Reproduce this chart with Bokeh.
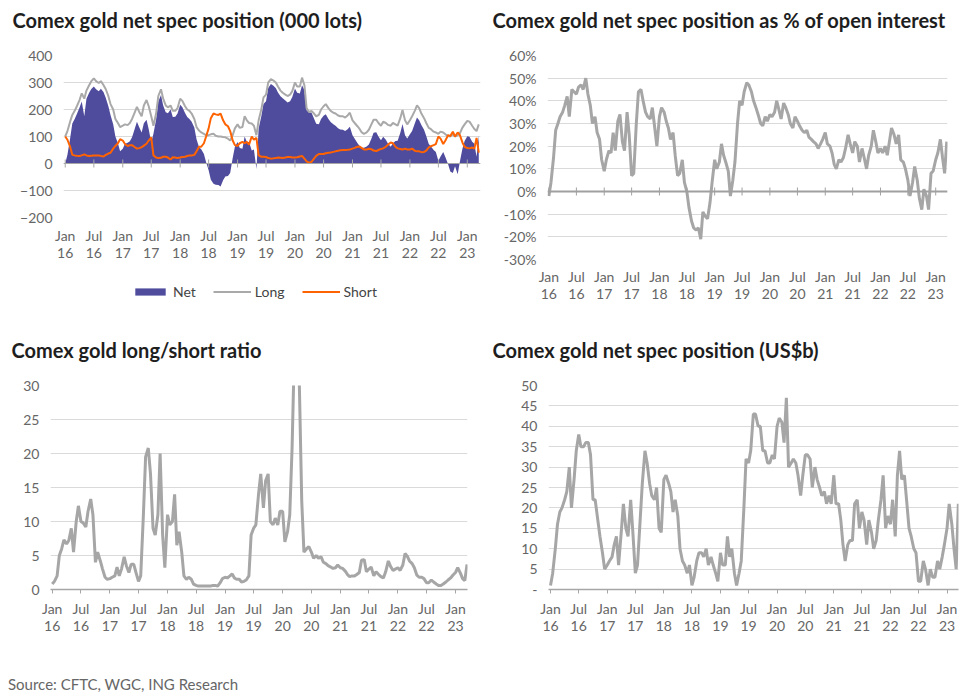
import math
import pandas as pd
from bokeh.plotting import figure
from bokeh.models import Range1d, FixedTicker, Legend, LegendItem, Title, Div, Span
from bokeh.layouts import column, row
from bokeh.embed import file_html
from bokeh.resources import INLINE

# ---------------- data (semi-monthly readings, Jan 2016 - Mar 2023) ----------------
dates = pd.date_range("2016-01-01", periods=174, freq="SMS")

tick_labels = ["Jan\n16", "Jul\n16", "Jan\n17", "Jul\n17", "Jan\n18", "Jul\n18", "Jan\n19", "Jul\n19",
               "Jan\n20", "Jul\n20", "Jan\n21", "Jul\n21", "Jan\n22", "Jul\n22", "Jan\n23"]
tick_dates = pd.date_range("2016-01-01", "2023-01-01", freq="6MS")

# Comex gold net spec position (000 lots)
net_lots = [0, 32, 93, 148, 165, 183, 207, 230, 175, 240, 262, 276, 285, 275, 268, 277, 264, 243, 213, 180, 145, 100, 75, 45,
            55, 73, 77, 82, 97, 123, 155, 135, 115, 149, 162, 127, 78, 110, 163, 230, 254, 215, 190, 186, 200, 172, 173, 185,
            218, 208, 187, 172, 165, 155, 133, 90, 60, 53, 35, 5, -25, -60, -75, -79, -80, -85, -62, -48, -46, -35, 20, 62,
            80, 57, 55, 100, 80, 80, 48, 52, -20, 130, 175, 220, 231, 280, 294, 289, 280, 263, 249, 242, 233, 226, 231, 246,
            278, 262, 259, 290, 272, 197, 188, 189, 167, 147, 145, 165, 177, 182, 165, 154, 145, 140, 131, 126, 125, 120, 127, 136,
            105, 92, 76, 65, 58, 58, 63, 70, 92, 114, 116, 100, 86, 99, 88, 73, 62, 75, 83, 84, 114, 146, 105, 93,
            108, 120, 148, 170, 160, 143, 125, 102, 72, 63, 50, 43, 10, 26, 43, 23, -3, -30, -35, -10, -40, 7, 55, 83,
            101, 99, 81, 73, 25, 105]
long_lots = [100, 120, 155, 180, 195, 212, 235, 260, 240, 270, 290, 305, 315, 305, 298, 305, 290, 275, 250, 220, 200, 165, 150, 135,
             140, 145, 142, 150, 165, 185, 210, 192, 175, 215, 235, 212, 175, 140, 185, 250, 275, 240, 215, 208, 215, 195, 195, 205,
             240, 232, 212, 200, 195, 185, 165, 135, 122, 115, 110, 105, 105, 108, 110, 103, 100, 100, 98, 97, 92, 85, 105, 130,
             145, 132, 135, 175, 160, 150, 148, 140, 105, 160, 200, 245, 255, 300, 312, 308, 300, 285, 270, 262, 255, 250, 255, 268,
             300, 285, 285, 318, 290, 205, 190, 195, 185, 175, 180, 200, 212, 220, 205, 195, 188, 185, 178, 175, 175, 170, 178, 188,
             160, 150, 138, 128, 115, 110, 115, 125, 145, 162, 162, 150, 140, 155, 150, 143, 140, 150, 145, 140, 168, 198, 160, 145,
             160, 175, 195, 215, 205, 185, 168, 150, 132, 127, 118, 115, 110, 118, 115, 108, 102, 100, 108, 100, 105, 112, 133, 145,
             158, 155, 140, 128, 120, 145]
short_lots = [100, 88, 62, 32, 30, 29, 28, 30, 34, 30, 28, 29, 30, 30, 30, 28, 26, 32, 37, 40, 55, 65, 75, 90,
              85, 72, 65, 68, 68, 62, 55, 57, 60, 66, 73, 85, 97, 30, 22, 20, 21, 25, 25, 22, 15, 23, 22, 20,
              22, 24, 25, 28, 30, 30, 32, 45, 62, 62, 75, 100, 130, 168, 185, 182, 180, 185, 160, 145, 138, 120, 85, 68,
              65, 75, 80, 75, 80, 70, 100, 88, 95, 30, 25, 25, 24, 20, 18, 19, 20, 22, 21, 20, 22, 24, 24, 22,
              22, 23, 26, 28, 18, 8, 2, 6, 18, 28, 35, 35, 35, 38, 40, 41, 43, 45, 47, 49, 50, 50, 51, 52,
              55, 58, 62, 63, 57, 52, 52, 55, 53, 48, 46, 50, 54, 56, 62, 70, 78, 75, 62, 56, 54, 52, 55, 52,
              52, 55, 47, 45, 45, 42, 43, 48, 60, 64, 68, 72, 100, 92, 72, 85, 105, 102, 118, 100, 115, 105, 78, 62,
              57, 56, 59, 55, 95, 40]

# Net spec position as % of open interest
pct_oi = [-2, 4, 15, 27, 30, 33, 35, 38, 42, 33, 45, 44, 43, 46, 47, 45, 50, 43, 38, 30, 33, 26, 23, 14,
          9, 14, 18, 17, 26, 18, 31, 34, 22, 18, 35, 25, 7, 8, 30, 44, 45, 40, 35, 33, 32, 37, 28, 20,
          33, 37, 35, 31, 28, 23, 26, 16, 7, 8, 14, 4, 0, -7, -13, -16, -17, -16, -21, -9, -11, -12, -5, 4,
          14, 10, 13, 21, 16, 13, 9, -2, 5, 13, 30, 40, 38, 44, 48, 47, 44, 40, 37, 34, 30, 29, 33, 31,
          34, 33, 35, 40, 36, 32, 39, 37, 34, 30, 28, 33, 31, 29, 27, 26, 27, 24, 23, 22, 21, 19, 21, 23,
          26, 21, 20, 17, 12, 10, 14, 13, 15, 19, 25, 21, 17, 22, 20, 13, 19, 15, 10, 16, 20, 27, 22, 17,
          19, 17, 20, 16, 22, 28, 25, 21, 25, 14, 13, 10, 5, -2, 4, 11, 5, -3, -8, 1, -2, -8, 8, 9,
          14, 17, 23, 15, 8, 22]

# Long/short ratio
ls_ratio = [0.8, 1.2, 2, 5, 6, 7.3, 6.7, 7.2, 9, 5.5, 10, 12.3, 10, 9.8, 9.2, 11.5, 13.3, 11, 4, 5.5, 4.2, 3, 1.8, 1.5,
            1.6, 1.8, 2, 3.3, 2, 3, 4.8, 3.5, 2.5, 3.7, 3.7, 2.5, 1.2, 2, 11, 19.5, 20.8, 17, 9, 8, 11, 20, 8, 3.2,
            11, 9.5, 10, 14, 6.5, 8.5, 5.5, 2, 1.5, 1.8, 1.5, 0.8, 0.6, 0.5, 0.5, 0.5, 0.5, 0.5, 0.5, 0.6, 0.6, 0.5, 1, 1.6,
            1.8, 1.7, 2, 2.3, 1.7, 1.5, 1.5, 1.1, 1.2, 1.4, 2, 8, 9, 9.5, 14, 17, 12, 16, 17, 10, 9.5, 10.5, 9.5, 11.5,
            11.5, 7, 8.5, 11, 21, 35, 40, 31, 13, 5.5, 6, 6.3, 5.5, 4.6, 5, 4.6, 4.8, 4, 3.8, 3.5, 3.3, 3.1, 3.2, 3.6,
            3.2, 3.1, 2.7, 2.2, 1.9, 2, 2, 2.2, 2.5, 4.3, 4.4, 2.6, 3, 3.3, 2, 2.6, 2.2, 1.9, 1.7, 2.6, 4.2, 3.4, 2.8, 3,
            3.2, 2.8, 3.6, 5.3, 4.9, 4.2, 3.8, 3.2, 2.1, 1.8, 1.8, 1.6, 1, 1, 1.4, 1.1, 0.8, 0.6, 0.6, 0.8, 1.1, 1.4, 1.7, 2.1,
            2.5, 3.2, 2.4, 1.6, 1.3, 3.7]

# Net spec position (US$b)
usd_bn = [1, 4, 10, 16, 19, 20, 22, 24, 30, 20, 27, 34, 38, 35, 35, 36, 36, 33, 22, 22, 17, 13, 9, 5,
          6, 7, 8, 11, 13, 6, 14, 21, 15, 13, 22, 14, 4, 6, 17, 26, 34, 31, 26, 23, 22, 25, 15, 14,
          27, 28, 26, 24, 19, 22, 18, 10, 7, 6, 4, 6, 1, 3, 7, 9, 9, 8, 10, 6, 8, 6, 4, 2,
          9, 6, 6, 13, 8, 10, 4, 1, 4, 7, 20, 32, 31, 34, 43, 43, 40, 40, 34, 34, 31, 31, 33, 32,
          40, 42, 41, 36, 47, 30, 31, 32, 31, 28, 23, 28, 33, 33, 32, 25, 30, 27, 25, 23, 24, 21, 23, 21,
          28, 21, 21, 17, 11, 7, 11, 12, 12, 21, 22, 15, 19, 17, 11, 17, 14, 10, 12, 17, 22, 28, 15, 18,
          16, 22, 13, 28, 34, 27, 28, 22, 15, 13, 10, 9, 2, 2, 7, 5, 1, 5, 3, 3, 7, 5, 8, 11,
          15, 21, 16, 10, 5, 21]

lots_ticks = [-200, -100, 0, 100, 200, 300, 400]
pct_ticks = [-30, -20, -10, 0, 10, 20, 30, 40, 50, 60]
pct_tick_labels = ["-30%", "-20%", "-10%", "0%", "10%", "20%", "30%", "40%", "50%", "60%"]
ratio_ticks = [0, 5, 10, 15, 20, 25, 30]
usd_ticks = [0, 5, 10, 15, 20, 25, 30, 35, 40, 45, 50]
usd_tick_labels = ["-", "5", "10", "15", "20", "25", "30", "35", "40", "45", "50"]

legend_labels = ["Net", "Long", "Short"]
titles = ["Comex gold net spec position (000 lots)",
          "Comex gold net spec position as % of open interest",
          "Comex gold long/short ratio",
          "Comex gold net spec position (US$b)"]
source_text = "Source: CFTC, WGC, ING Research"

# ---------------- styling ----------------
FONT = "Lato"
TITLE_COLOR = "#1e1e1e"
TICK_COLOR = "#666666"
GRID = "#dadada"
GRAY = "#a6a6a6"
LONG_GRAY = "#a9a9a9"
BLUE = "#4f4c9e"
ORANGE = "#ff6200"

xs = [d.value / 1e6 for d in dates]
ticks_ms = [d.value / 1e6 for d in tick_dates]
x_over = {t: lab for t, lab in zip(ticks_ms, tick_labels)}


def ms(s):
    return pd.Timestamp(s).value / 1e6


def make_fig(w, h, xr, yr, bl, br, bt, bb, yticks, title, toff, tstand, ylabels=None,
             label_standoff=12, axis_bottom_line=False):
    # trailing blank line keeps the title away from the plot frame
    t = Title(text=title + "\n", align="left", offset=toff, standoff=tstand, vertical_align="bottom",
              text_font=FONT, text_font_style="bold", text_font_size="20px", text_color=TITLE_COLOR)
    p = figure(width=w, height=h, x_range=Range1d(ms(xr[0]), ms(xr[1])), y_range=Range1d(*yr),
               output_backend="svg", toolbar_location=None, title=t,
               min_border_left=bl, min_border_right=br, min_border_top=bt, min_border_bottom=bb)
    p.outline_line_color = None
    p.xgrid.visible = False
    p.ygrid.grid_line_color = GRID
    p.ygrid.grid_line_width = 1
    p.yaxis.ticker = FixedTicker(ticks=yticks)
    if ylabels is not None:
        p.yaxis.major_label_overrides = {float(v): s for v, s in zip(yticks, ylabels)}
    p.yaxis.axis_line_color = None
    p.yaxis.major_tick_line_color = None
    p.yaxis.minor_tick_line_color = None
    p.yaxis.major_tick_out = 0
    p.yaxis.major_tick_in = 0
    p.yaxis.major_label_standoff = 11
    p.yaxis.major_label_text_font = FONT
    p.yaxis.major_label_text_font_size = "14px"
    p.yaxis.major_label_text_color = TICK_COLOR

    xa = p.xaxis[0]
    xa.ticker = FixedTicker(ticks=ticks_ms)
    xa.major_label_overrides = x_over
    xa.minor_tick_line_color = None
    xa.major_label_text_font = FONT
    xa.major_label_text_font_size = "14px"
    xa.major_label_text_line_height = 1.0
    xa.major_label_text_color = TICK_COLOR
    xa.major_label_standoff = label_standoff
    if axis_bottom_line:
        xa.axis_line_color = GRAY
        xa.axis_line_width = 1.5
        xa.major_tick_line_color = GRAY
        xa.major_tick_in = 0
        xa.major_tick_out = 4
    else:
        xa.axis_line_color = None
        xa.major_tick_line_color = None
        xa.major_tick_in = 0
        xa.major_tick_out = 0
    return p


def add_zero_line(p, color, width):
    p.add_layout(Span(location=0, dimension="width", line_color=color, line_width=width))
    p.scatter(x=ticks_ms, y=[0] * len(ticks_ms), marker="dash", angle=math.pi / 2, size=8,
              line_color=color, line_width=1)


# ---- top-left: lots ----
p1 = make_fig(485, 275, ("2015-12-21", "2023-03-26"), (-200, 400), 63, 5, 55, 58, lots_ticks,
              titles[0], -51, 0, label_standoff=9)
p1.varea(x=xs, y1=0, y2=net_lots, fill_color=BLUE)
p1.line(xs, long_lots, line_color=LONG_GRAY, line_width=2)
p1.line(xs, short_lots, line_color=ORANGE, line_width=2)
add_zero_line(p1, GRAY, 1)

# legend strip below the top-left chart: key renderers reuse the series but lie outside its [0, 1] view
pl = figure(width=485, height=55, x_range=Range1d(0, 1), y_range=Range1d(0, 1),
            output_backend="svg", toolbar_location=None, x_axis_location=None, y_axis_location=None,
            min_border_left=0, min_border_right=0, min_border_top=0, min_border_bottom=0)
pl.outline_line_color = None
pl.xgrid.visible = False
pl.ygrid.visible = False
k_net = pl.varea(x=xs, y1=0, y2=net_lots, fill_color=BLUE)
k_long = pl.line(xs, long_lots, line_color=LONG_GRAY, line_width=2)
k_short = pl.line(xs, short_lots, line_color=ORANGE, line_width=2)
leg = Legend(items=[LegendItem(label=legend_labels[0], renderers=[k_net]),
                    LegendItem(label=legend_labels[1], renderers=[k_long]),
                    LegendItem(label=legend_labels[2], renderers=[k_short])],
             orientation="horizontal", location=(68, 30),
             border_line_color=None, background_fill_alpha=0,
             glyph_width=38, glyph_height=9, label_standoff=4, spacing=17,
             padding=0, margin=0, label_text_font=FONT, label_text_font_size="14px",
             label_text_color="#444444")
pl.add_layout(leg)

# ---- top-right: % of OI ----
p2 = make_fig(478, 330, ("2015-12-23", "2023-03-20"), (-30, 60), 62, 16, 55, 71, pct_ticks,
              titles[1], -55, 0, ylabels=pct_tick_labels, label_standoff=8)
p2.line(xs, pct_oi, line_color=GRAY, line_width=3)
add_zero_line(p2, "#a0a0a0", 2)

# ---- bottom-left: ratio ----
p3 = make_fig(485, 340, ("2015-12-21", "2023-03-18"), (0, 30), 50, 18, 55, 81, ratio_ticks,
              titles[2], -39, 0, label_standoff=6, axis_bottom_line=True)
p3.line(xs, ls_ratio, line_color=GRAY, line_width=3)

# ---- bottom-right: US$b ----
p4 = make_fig(478, 340, ("2015-12-19", "2023-03-16"), (0, 50), 63, 5, 55, 81, usd_ticks,
              titles[3], -56, 0, ylabels=usd_tick_labels, label_standoff=6, axis_bottom_line=True)
p4.line(xs, usd_bn, line_color=GRAY, line_width=3)

src = Div(text='<div style="padding:6px 0 0 8px;font-family:Lato;font-size:15px;line-height:17px;'
               'color:#666666;white-space:nowrap">' + source_text + '</div>',
          width=400, height=26, margin=0)

layout = column(row(column(p1, pl), p2), row(p3, p4), src)
open("out.html", "w").write(file_html(layout, INLINE))
